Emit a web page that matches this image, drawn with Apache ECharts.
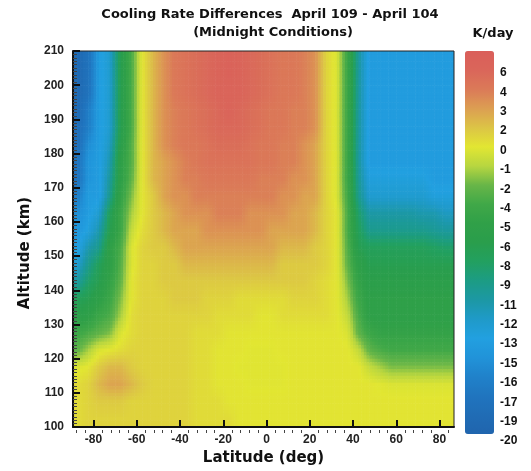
<!DOCTYPE html>
<html><head><meta charset="utf-8">
<script src="https://cdn.jsdelivr.net/npm/echarts@6/dist/echarts.min.js"></script>
<style>html,body{margin:0;padding:0;background:#fff}#c{width:531px;height:471px}</style>
</head><body><div id="c"></div>
<script>
// Latitude cell centres (deg) and altitude cell centres (km), top row first
const latCenters = [-87.5,-82.5,-77.5,-72.5,-67.5,-62.5,-57.5,-52.5,-47.5,-42.5,-37.5,-32.5,-27.5,-22.5,-17.5,-12.5,-7.5,-2.5,2.5,7.5,12.5,17.5,22.5,27.5,32.5,37.5,42.5,47.5,52.5,57.5,62.5,67.5,72.5,77.5,82.5,87.5];
const altCenters = [207.5,202.5,197.5,192.5,187.5,182.5,177.5,172.5,167.5,162.5,157.5,152.5,147.5,142.5,137.5,132.5,127.5,122.5,117.5,112.5,107.5,102.5];

// Cooling rate difference (K/day), one array per altitude row
const row_207_5 = [-19,-17,-13,-12,-6,-3, 0.5,2.5,3.5,4.5,5,5.5,6,6.5,7,6.5,6,5.5,5,4.5,4.5,4,3.5,1.5,0, -4,-10,-13,-13,-13,-13,-13,-13,-13,-13,-13];
const row_202_5 = [-19,-17,-13,-12,-6,-3, 0.5,2.5,3.5,4.5,5,5.5,6,6.5,7,6.5,6,5.5,5,4.5,4.5,4,3.5,1.5,0, -4,-10,-13,-13,-13,-13,-13,-13,-13,-13,-13];
const row_197_5 = [-19,-17,-13,-12,-6,-3, 0.5,2.5,3.5,4.5,5,5.5,6,6.5,6.5,6.5,6,5.5,5,4.5,4.5,4,3.5,1.5,0, -4,-10,-13,-13,-13,-13,-13,-13,-13,-13,-13];
const row_192_5 = [-19,-16,-13,-12,-6,-3, 0.5,2.5,3.5,4,4.5,5,5.5,6,6.5,6,5.5,5,4.5,4.5,4,4,3.5,1.5,0, -4,-10,-13,-13,-13,-13,-13,-13,-13,-13,-13];
const row_187_5 = [-18,-16,-13,-12,-6,-3, 0.5,2.5,3.5,4,4.5,5,5.5,6,6,6,5.5,5,4.5,4.5,4,4,3.5,1.5,0, -4,-10,-13,-13,-13,-13,-13,-13,-13,-13,-13];
const row_182_5 = [-18,-15,-13,-11.5,-5.5,-2.5, 0.5,2.5,3.5,4,4.5,4.5,5,5.5,5.5,5.5,5,4.5,4.5,4,4,3.5,3,1.5,0, -4,-10,-13,-13,-13,-13,-13,-13,-13,-13,-13];
const row_177_5 = [-17,-14,-13,-11,-5,-2.5, 0.5,2.5,3,3.5,4,4.5,5,5,5,5,5,4.5,4.5,4,4,3.5,3,1.5,0, -4,-10,-13,-13,-13,-13,-13,-13,-13,-13,-13];
const row_172_5 = [-17,-14,-13,-10,-5,-2, 0.5,2.5,3,3.5,4,4,4.5,4.5,4.5,4.5,4.5,4,4,4,3.5,3.5,3,1.5,0, -4,-9.5,-12.5,-12.5,-12.5,-12.5,-12.5,-12.5,-13,-13,-13];
const row_167_5 = [-16,-13,-13,-9,-4.5,-1.5, 0.5,2,3,3.5,3.5,4,4,4,4,4,4,4,4,3.5,3.5,3,3,1.5,0, -3.5,-9,-12,-12,-12,-12,-12,-12,-12.5,-12.5,-12.5];
const row_162_5 = [-15,-13,-12,-7,-4,-1, 0.5,2,2.5,3,3.5,3.5,3.5,4,4,4,3.5,3.5,3.5,3.5,3,3,2.5,1.5,0.5, -3,-8,-10.5,-10.5,-10.5,-10.5,-10.5,-11,-11,-11.5,-11.5];
const row_157_5 = [-14,-12.5,-11,-6,-4,-0.5, 1,2,2.5,3,3,3,3.5,3.5,3.5,3.5,3.5,3.5,3,3,3,3,2.5,1.5,0.5, -3,-7,-9,-9,-9,-9,-9,-9,-9.5,-10,-10];
const row_152_5 = [-13,-11,-9,-5,-3,0, 1.5,2,2,2.5,3,3,3,3,3,3,3,3,3,2.5,2.5,2.5,2,1.5,0.5, -2.5,-6,-7,-7,-7,-7,-7,-7,-7.5,-8,-8];
const row_147_5 = [-12,-9,-7,-5,-2.5,0, 1.5,1.5,2,2,2.5,2.5,2.5,2.5,2.5,2.5,2.5,2.5,2.5,2,2,2,2,1.5,0.5, -2,-5,-6,-6,-6,-6,-6,-6,-6,-6,-6];
const row_142_5 = [-10,-8,-6,-4.5,-2,0.5, 1.5,1.5,2,2,2,2,2,2,2,2,2,2,2,2,2,2,1.5,1,0.5, -1.5,-4.5,-5.5,-5.5,-5.5,-5.5,-5.5,-5.5,-5.5,-5.5,-5.5];
const row_137_5 = [-7,-6,-5,-4,-1.5,0.5, 1.5,1.5,1.5,2,2,2,1.5,1.5,1.5,1,1,1,1,1,1.5,1.5,1.5,1,0.5, -1,-4,-5,-5,-5,-5,-5,-5,-5,-5,-5];
const row_132_5 = [-5.5,-5,-4,-3,-1,1, 1.5,1.5,1.5,1.5,1.5,1.5,1.5,1,1,1,1,0.5,0.5,1,1,1,1,1,0.5, -0.5,-3,-5,-5,-5,-5,-5,-5,-5,-5,-5];
const row_127_5 = [-4,-3,-2,-1.5,0,1, 1.5,1.5,1.5,1.5,1.5,1,1,1,0.5,0.5,0.5,0.5,0.5,0.5,0.5,0.5,0.5,0.5,0.5, 0,-2,-4,-4.5,-4.5,-4.5,-4.5,-4.5,-4.5,-4.5,-4.5];
const row_122_5 = [-2,-1,0,0.5,1,1.5, 1.5,1.5,1.5,1.5,1.5,1,1,0.5,0.5,0.5,0.3,0.3,0.3,0.5,0.5,0.5,0.5,0.5,0.5, 0.5,-0.5,-2,-3,-3.5,-3.5,-3.5,-3.5,-3.5,-3.5,-3.5];
const row_117_5 = [0,0.5,2,2.5,2.5,2, 1.5,1.5,1.5,1.5,1.5,1,1,0.5,0.5,0.3,0.3,0.3,0.3,0.3,0.5,0.5,0.5,0.5,0.5, 0.5,0.5,-0.5,-1,-1.5,-1.5,-1.5,-1.5,-1.5,-1.5,-1.5];
const row_112_5 = [1,1.5,2.5,3,3,2.5, 2,1.5,1.5,1.5,1.5,1,1,0.5,0.5,0.5,0.3,0.3,0.3,0.3,0.5,0.5,0.5,0.5,0.5, 0.5,0.5,0.5,0.3,0,0,0,0,0,0,0];
const row_107_5 = [1,1.5,2,2,2,1.5, 1.5,1.5,1.5,1.5,1.5,1,1,1,0.5,0.5,0.5,0.5,0.5,0.5,0.5,0.5,0.5,0.5,0.5, 0.5,0.5,0.5,0.5,0.5,0.5,0.5,0.5,0.5,0.5,0.5];
const row_102_5 = [1,1.5,1.5,1.5,1.5,1.5, 1.5,1.5,1.5,1.5,1.5,1,1,1,1,0.5,0.5,0.5,0.5,0.5,0.5,0.5,0.5,0.5,0.5, 0.5,0.5,0.5,0.5,0.5,0.5,0.5,0.5,0.5,0.5,0.5];
const rowsTopDown = [row_207_5,row_202_5,row_197_5,row_192_5,row_187_5,row_182_5,row_177_5,row_172_5,row_167_5,row_162_5,row_157_5,row_152_5,row_147_5,row_142_5,row_137_5,row_132_5,row_127_5,row_122_5,row_117_5,row_112_5,row_107_5,row_102_5];

// Axis ticks
const xTickValues = [-80,-60,-40,-20,0,20,40,60,80];
const xMinorTickValues = [-88,-84,-76,-72,-68,-64,-56,-52,-48,-44,-36,-32,-28,-24,-16,-12,-8,-4,4,8,12,16,24,28,32,36,44,48,52,56,64,68,72,76,84];
// Colour bar labels (top to bottom) and their numeric values
const cbarLabels = ['6','4','3','2','0','-1','-2','-4','-5','-6','-8','-9','-11','-12','-13','-15','-16','-17','-19','-20'];
const cbarValues = [6,4,3,2,0,-1,-2,-4,-5,-6,-8,-9,-11,-12,-13,-15,-16,-17,-19,-20];
// Colour bar colours, bottom to top
const cbarColors = ['#2065ae','#206cb5','#2075bf','#2082ca','#2193d9','#22a0e0','#1f9ac8','#1c98a4','#1c9c84','#22a060','#2a9e4c','#30a048','#40a848','#68b648','#b8d640','#e2e632','#dcc446','#dc9e52','#db7a58','#da665a','#da5e5a'];

// layout
const G = {left:73, top:51, right:454, bottom:433};
const BAR = {left:465, top:51, width:29, bottom:434};
const LBL = {top:73, bottom:441};
const step = (LBL.bottom - LBL.top) / (cbarLabels.length - 1);

// value -> fractional colour-bar label index (labels evenly spaced, values not)
function slot(v){
  const n = cbarValues.length;
  if (v >= cbarValues[0]) return (cbarValues[0]-v)/(cbarValues[0]-cbarValues[1]);
  for (let i=0;i<n-1;i++){
    const a=cbarValues[i], b=cbarValues[i+1];
    if (v<=a && v>=b) return i + (a-v)/(a-b);
  }
  return (n-1) + (cbarValues[n-1]-v)/(cbarValues[n-2]-cbarValues[n-1]);
}
const vmMax = (LBL.top - BAR.top)/step;
const vmMin = -(BAR.bottom - LBL.top)/step;

const NC = latCenters.length, NR = altCenters.length;
const data = [];
rowsTopDown.forEach((row, r) => {
  row.forEach((v, c) => { data.push([latCenters[c], altCenters[r], v, -slot(v)]); });
});
const dLat = latCenters[1]-latCenters[0];
const dAlt = altCenters[0]-altCenters[1];

// smooth shading between cell centres (rendering only)
function S(r, c){
  r = Math.max(0, Math.min(NR-1, r)); c = Math.max(0, Math.min(NC-1, c));
  return data[r*NC + c][3];
}
function shade(r, c){
  const r0 = Math.floor(r), c0 = Math.floor(c), fr = r - r0, fc = c - c0;
  return (S(r0,c0)*(1-fc) + S(r0,c0+1)*fc)*(1-fr) + (S(r0+1,c0)*(1-fc) + S(r0+1,c0+1)*fc)*fr;
}
function colorOf(s){
  const t = Math.max(0, Math.min(1, (s - vmMin)/(vmMax - vmMin)));
  return echarts.color.lerp(t, cbarColors);
}
const SUBX = 4, SUBY = 5;

const font = 'Liberation Sans, Arial, sans-serif';
const tfont = 'DejaVu Sans, Verdana, sans-serif';
const plotGrid = {left:G.left, top:G.top, width:G.right-G.left, height:G.bottom-G.top, containLabel:false};
const chart = echarts.init(document.getElementById('c'), null, {renderer:'canvas'});
chart.setOption({
  animation:false,
  backgroundColor:'#fff',
  title:[
    {text:'Cooling Rate Differences  April 109 - April 104', left:270, top:8, textAlign:'center', padding:0,
     textStyle:{fontFamily:tfont, fontSize:13, fontWeight:'bold', color:'#111'}},
    {text:'(Midnight Conditions)', left:273, top:26, textAlign:'center', padding:0,
     textStyle:{fontFamily:tfont, fontSize:13, fontWeight:'bold', color:'#111'}},
    {text:'K/day', left:493, top:27, textAlign:'center', padding:0,
     textStyle:{fontFamily:tfont, fontSize:13, fontWeight:'bold', color:'#111'}}
  ],
  grid:[
    Object.assign({show:true, borderColor:'#222', borderWidth:1, backgroundColor:'transparent', z:5}, plotGrid),
    {left:BAR.left, top:LBL.top, width:BAR.width, height:LBL.bottom-LBL.top, containLabel:false},
    Object.assign({show:false}, plotGrid)
  ],
  xAxis:[
    {type:'value', gridIndex:0, min:-89.5, max:86.7, position:'bottom', z:10,
     axisLine:{onZero:false, lineStyle:{color:'#111', width:2}},
     axisTick:{inside:true, length:7, customValues:xTickValues, lineStyle:{color:'#111', width:2}},
     axisLabel:{customValues:xTickValues, margin:7, fontFamily:font, fontSize:12, fontWeight:'bold', color:'#222'},
     splitLine:{show:false},
     name:'Latitude (deg)', nameLocation:'middle', nameGap:23,
     nameTextStyle:{fontFamily:tfont, fontSize:15, fontWeight:'bold', color:'#111'}},
    {type:'value', gridIndex:1, show:false, min:0, max:1},
    {type:'value', gridIndex:2, min:-89.5, max:86.7, position:'bottom', z:10,
     axisLine:{show:false, onZero:false},
     axisTick:{inside:true, length:3, customValues:xMinorTickValues, lineStyle:{color:'#444', width:1}},
     axisLabel:{show:false}, splitLine:{show:false}}
  ],
  yAxis:[
    {type:'value', gridIndex:0, min:100, max:210, interval:10, position:'left', z:10,
     axisLine:{onZero:false, lineStyle:{color:'#111', width:2}},
     axisTick:{inside:true, length:7, lineStyle:{color:'#111', width:2}},
     minorTick:{show:true, splitNumber:10, length:4, lineStyle:{color:'#444', width:1}},
     axisLabel:{margin:9, fontFamily:font, fontSize:12, fontWeight:'bold', color:'#222'},
     splitLine:{show:false},
     name:'Altitude (km)', nameLocation:'middle', nameGap:37, nameRotate:90,
     nameTextStyle:{fontFamily:tfont, fontSize:15, fontWeight:'bold', color:'#111', padding:[0,28,0,0]}},
    {type:'category', gridIndex:1, data:cbarLabels.slice().reverse(), boundaryGap:false, position:'right',
     axisLine:{show:false, onZero:false}, axisTick:{show:false}, splitLine:{show:false},
     axisLabel:{interval:0, align:'left', margin:6, fontFamily:font, fontSize:12, fontWeight:'bold', color:'#111'}},
    {type:'value', gridIndex:2, show:false, min:100, max:210}
  ],
  visualMap:{
    type:'continuous', seriesIndex:0, dimension:3, min:vmMin, max:vmMax,
    calculable:false, orient:'vertical', left:BAR.left, top:BAR.top, padding:0,
    itemWidth:BAR.width, itemHeight:BAR.bottom-BAR.top, text:null, hoverLink:false,
    inRange:{color:cbarColors}
  },
  series:[{
    type:'custom', xAxisIndex:0, yAxisIndex:0, coordinateSystem:'cartesian2d',
    encode:{x:0, y:1},
    renderItem:function(params, api){
      const idx = params.dataIndex;
      const r = Math.floor(idx / NC), c = idx % NC;
      const lat = api.value(0), alt = api.value(1);
      const p1 = api.coord([lat - dLat/2, alt + dAlt/2]);
      const p2 = api.coord([lat + dLat/2, alt - dAlt/2]);
      const cs = params.coordSys;
      const clip = {x:cs.x, y:cs.y, width:cs.width, height:cs.height};
      const w = (p2[0]-p1[0])/SUBX, h = (p2[1]-p1[1])/SUBY;
      const children = [];
      for (let i=0;i<SUBX;i++){
        for (let j=0;j<SUBY;j++){
          const du = -0.5 + (i+0.5)/SUBX, dv = -0.5 + (j+0.5)/SUBY;
          const rect = echarts.graphic.clipRectByRect(
            {x:p1[0]+i*w, y:p1[1]+j*h, width:w+0.6, height:h+0.6}, clip);
          if (rect) children.push({type:'rect', shape:rect, style:{fill:colorOf(shade(r+dv, c+du))}});
        }
      }
      return {type:'group', children:children};
    },
    data:data, z:1
  }]
});
</script></body></html>
